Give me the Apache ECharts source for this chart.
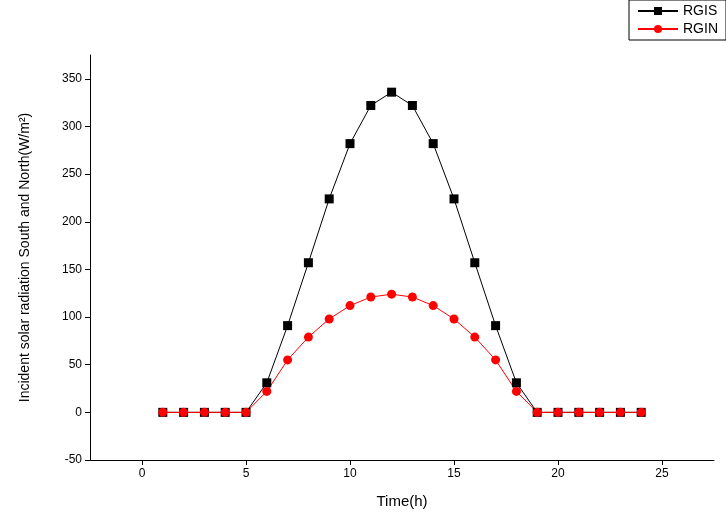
<!DOCTYPE html>
<html><head><meta charset="utf-8">
<script src="https://cdn.jsdelivr.net/npm/echarts@6/dist/echarts.min.js"></script>
<style>html,body{margin:0;padding:0;background:#fff}#c{width:726px;height:515px}</style>
</head><body><div id="c"></div>
<script>
const hours = [1,2,3,4,5,6,7,8,9,10,11,12,13,14,15,16,17,18,19,20,21,22,23,24];
const rgis = [0,0,0,0,0,31,91,157,224,282,322,336,322,282,224,157,91,31,0,0,0,0,0,0];
const rgin = [0,0,0,0,0,22,55,79,98,112,121,124,121,112,98,79,55,22,0,0,0,0,0,0];
const xTicks = [0,5,10,15,20,25];
const yTicks = [-50,0,50,100,150,200,250,300,350];
const font = 'Liberation Sans, Arial, sans-serif';
const chart = echarts.init(document.getElementById('c'));
chart.setOption({
  animation:false,
  legend:{right:0,top:0,orient:'vertical',itemWidth:40,itemHeight:10,itemGap:4,
    padding:[4,8,4,8],borderColor:'#000',borderWidth:1,borderRadius:0,
    textStyle:{fontFamily:font,fontSize:14,color:'#000'}},
  grid:{left:90,right:12,top:55,bottom:55},
  xAxis:{type:'value',min:-2.5,max:27.5,
    name:'Time(h)',nameLocation:'middle',nameGap:34,nameTextStyle:{fontFamily:font,fontSize:15,color:'#000'},
    axisLine:{show:true,onZero:false,lineStyle:{color:'#000'}},
    axisTick:{show:true,inside:false,length:5,customValues:xTicks,lineStyle:{color:'#000'}},
    axisLabel:{customValues:xTicks,fontFamily:font,fontSize:12,color:'#000'},
    splitLine:{show:false}},
  yAxis:{type:'value',min:-50,max:375,
    name:'Incident solar radiation South and North(W/m²)',nameLocation:'middle',nameGap:58,
    nameTextStyle:{fontFamily:font,fontSize:14,color:'#000'},
    axisLine:{show:true,onZero:false,lineStyle:{color:'#000'}},
    axisTick:{show:true,length:5,customValues:yTicks,lineStyle:{color:'#000'}},
    axisLabel:{customValues:yTicks,fontFamily:font,fontSize:12,color:'#000'},
    splitLine:{show:false}},
  series:[
    {name:'RGIS',type:'line',data:hours.map((h,i)=>[h,rgis[i]]),symbol:'rect',symbolSize:9,
      lineStyle:{color:'#000',width:1},itemStyle:{color:'#000'}},
    {name:'RGIN',type:'line',data:hours.map((h,i)=>[h,rgin[i]]),symbol:'circle',symbolSize:9,
      lineStyle:{color:'#ff0000',width:1},itemStyle:{color:'#ff0000'}}
  ]
});
</script></body></html>
